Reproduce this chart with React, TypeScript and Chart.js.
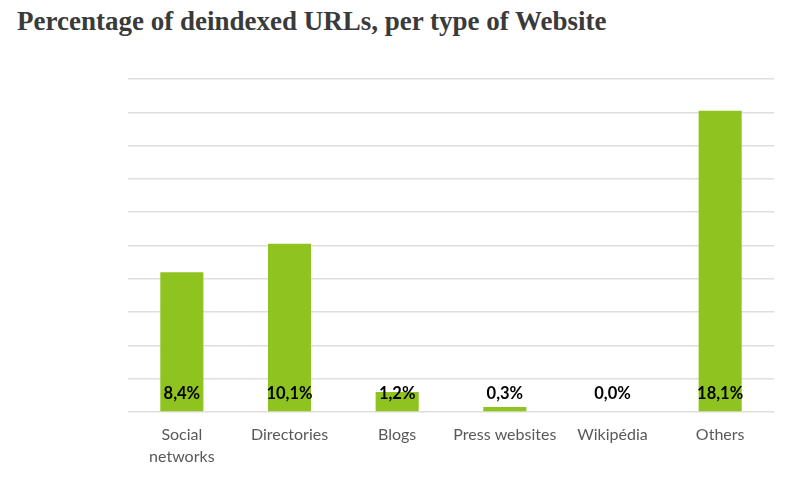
import React, { useEffect, useRef } from "react";
import { Chart, registerables } from "chart.js";

Chart.register(...registerables);

const categories: (string | string[])[] = [
  ["Social", "networks"],
  "Directories",
  "Blogs",
  "Press websites",
  "Wikipédia",
  "Others",
];
const values: number[] = [8.4, 10.1, 1.2, 0.3, 0.0, 18.1];
const valueLabels: string[] = ["8,4%", "10,1%", "1,2%", "0,3%", "0,0%", "18,1%"];
const titleText = "Percentage of deindexed URLs, per type of Website";

const labelPlugin = {
  id: "valueLabels",
  afterDatasetsDraw(chart: any) {
    const { ctx } = chart;
    const meta = chart.getDatasetMeta(0);
    const y0 = chart.scales.y.getPixelForValue(0);
    ctx.save();
    ctx.font = "bold 16.5px Lato";
    ctx.fillStyle = "#000000";
    ctx.textAlign = "center";
    ctx.textBaseline = "middle";
    meta.data.forEach((bar: any, i: number) => {
      ctx.fillText(valueLabels[i], bar.x, y0 - 18);
    });
    ctx.restore();
  },
};

export default function App() {
  const ref = useRef<HTMLCanvasElement | null>(null);
  useEffect(() => {
    if (!ref.current) return;
    const chart = new Chart(ref.current, {
      type: "bar",
      data: {
        labels: categories as any,
        datasets: [
          {
            data: values,
            backgroundColor: "#8fc31f",
            borderWidth: 0,
            barPercentage: 0.4,
            categoryPercentage: 1,
          },
        ],
      },
      options: {
        animation: false,
        responsive: false,
        maintainAspectRatio: false,
        layout: { padding: { left: 128, right: 26, top: 79, bottom: 0 } },
        plugins: {
          legend: { display: false },
          tooltip: { enabled: false },
          title: { display: false },
        },
        scales: {
          x: {
            grid: { display: false, drawTicks: false },
            border: { display: false },
            ticks: {
              color: "#595959",
              font: { family: "Lato", size: 16, lineHeight: 1.35 },
              padding: 12,
              maxRotation: 0,
              autoSkip: false,
            },
            afterFit: (s: any) => {
              s.height = 73;
            },
          },
          y: {
            min: 0,
            max: 20,
            ticks: { display: false, stepSize: 2 },
            grid: { color: "#dedede", lineWidth: 1.5, drawTicks: false },
            border: { display: false },
            afterFit: (s: any) => {
              s.width = 0;
            },
          },
        },
      },
      plugins: [labelPlugin],
    });
    return () => chart.destroy();
  }, []);
  return (
    <div style={{ position: "fixed", left: 0, top: 0, width: 800, height: 485, background: "#fff" }}>
      <div
        style={{
          position: "absolute",
          left: 17,
          top: 6,
          fontFamily: "'Liberation Serif', serif",
          fontWeight: "bold",
          fontSize: 27,
          color: "#3a3a3a",
          whiteSpace: "nowrap",
        }}
      >
        {titleText}
      </div>
      <canvas ref={ref} width={800} height={485} style={{ position: "absolute", left: 0, top: 0 }} />
    </div>
  );
}
